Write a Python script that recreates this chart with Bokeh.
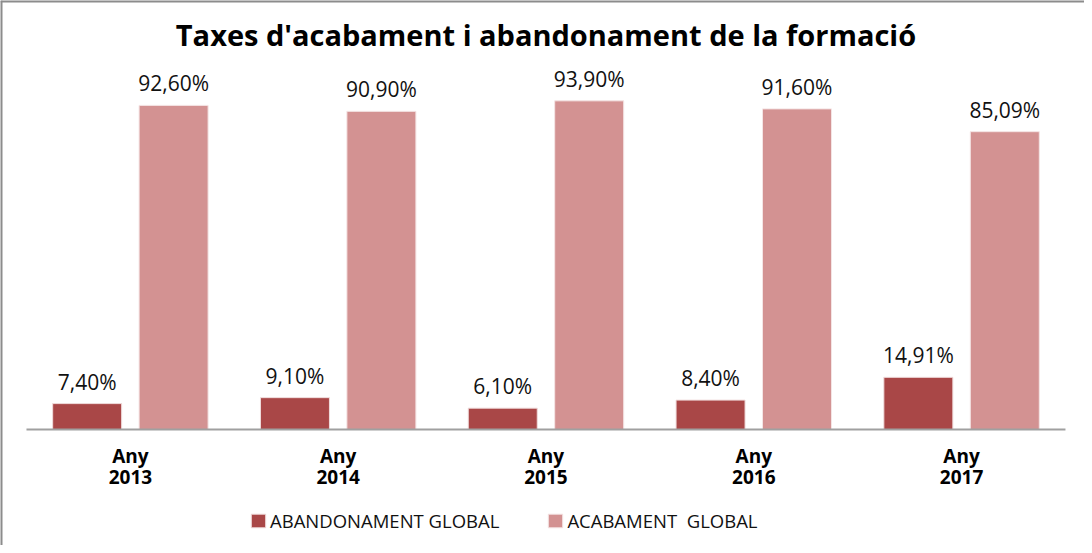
from bokeh.plotting import figure
from bokeh.models import ColumnDataSource, Legend, LegendItem, Range1d, Span, Label
from bokeh.transform import dodge
from bokeh.embed import file_html
from bokeh.resources import INLINE
from bokeh.core.properties import value

# ---- data ----
years = ["2013", "2014", "2015", "2016", "2017"]
categories = ["Any\n" + y for y in years]
abandonament = [7.40, 9.10, 6.10, 8.40, 14.91]
acabament = [92.60, 90.90, 93.90, 91.60, 85.09]
series_names = ["ABANDONAMENT GLOBAL", "ACABAMENT  GLOBAL"]
title_text = "Taxes d'acabament i abandonament de la formació"

colors = ["#A94747", "#D39292"]
FONT = "Open Sans"
W, H = 1084, 545


def fmt(v):
    return f"{v:.2f}".replace(".", ",") + "%"


n = len(categories)
xs = list(range(n))
source = ColumnDataSource(dict(
    x=xs,
    cat=categories,
    ab=abandonament,
    ac=acabament,
    ab_lbl=[fmt(v) for v in abandonament],
    ac_lbl=[fmt(v) for v in acabament],
))

# ranges chosen so the plotting frame fills the whole canvas
x_start = -0.625
x_end = x_start + W / 207.8
y_start = -116 / 3.5
y_end = (H - 116) / 3.5

p = figure(
    width=W, height=H,
    x_range=Range1d(x_start, x_end),
    y_range=Range1d(y_start, y_end),
    output_backend="svg", toolbar_location=None, tools="",
    min_border=0,
)
p.axis.visible = False
p.grid.grid_line_color = None
p.outline_line_color = None

# outer chart border (left and top visible in the reference)
p.add_layout(Span(location=x_start, dimension="height", line_color="#8c8c8c", line_width=4))
p.add_layout(Span(location=y_end, dimension="width", line_color="#8c8c8c", line_width=4))

off = 0.208
bw = 0.332
r1 = p.vbar(x=dodge("x", -off), top="ab", width=bw, bottom=0,
            source=source, fill_color=colors[0], line_color="#f0dcdc", line_width=1)
r2 = p.vbar(x=dodge("x", off), top="ac", width=bw, bottom=0,
            source=source, fill_color=colors[1], line_color="#f4e4e4", line_width=1)

for col, lbl, o in (("ab", "ab_lbl", -off), ("ac", "ac_lbl", off)):
    p.text(x=dodge("x", o), y=col, text=lbl, source=source,
           text_align="center", text_baseline="bottom", y_offset=-8,
           text_font=value(FONT), text_font_size="21px", text_color="#111111")

# category axis line
p.segment(x0=[-0.5], x1=[n - 0.5], y0=[0], y1=[0], line_color="#A0A0A0", line_width=2)

# category labels
p.text(x="x", y=0, text="cat", source=source, y_offset=13,
       text_align="center", text_baseline="top", text_line_height=0.81,
       text_font=value(FONT), text_font_size="19px", text_font_style="bold",
       text_color="#000000")

# title
p.add_layout(Label(x=(n - 1) / 2, y=113, text=title_text, text_align="center",
                   text_baseline="middle", text_font=FONT, text_font_size="29px",
                   text_font_style="bold", text_color="#000000"))

legend = Legend(
    items=[LegendItem(label=series_names[0], renderers=[r1]),
           LegendItem(label=series_names[1], renderers=[r2])],
    orientation="horizontal", location=(249, 12),
    glyph_width=18, glyph_height=17, label_standoff=3, spacing=47,
    padding=0, margin=0, border_line_color=None, background_fill_alpha=0,
    label_text_font=FONT, label_text_font_size="18.5px", label_text_color="#111111",
)
p.add_layout(legend, "center")

open("out.html", "w").write(file_html(p, INLINE))
